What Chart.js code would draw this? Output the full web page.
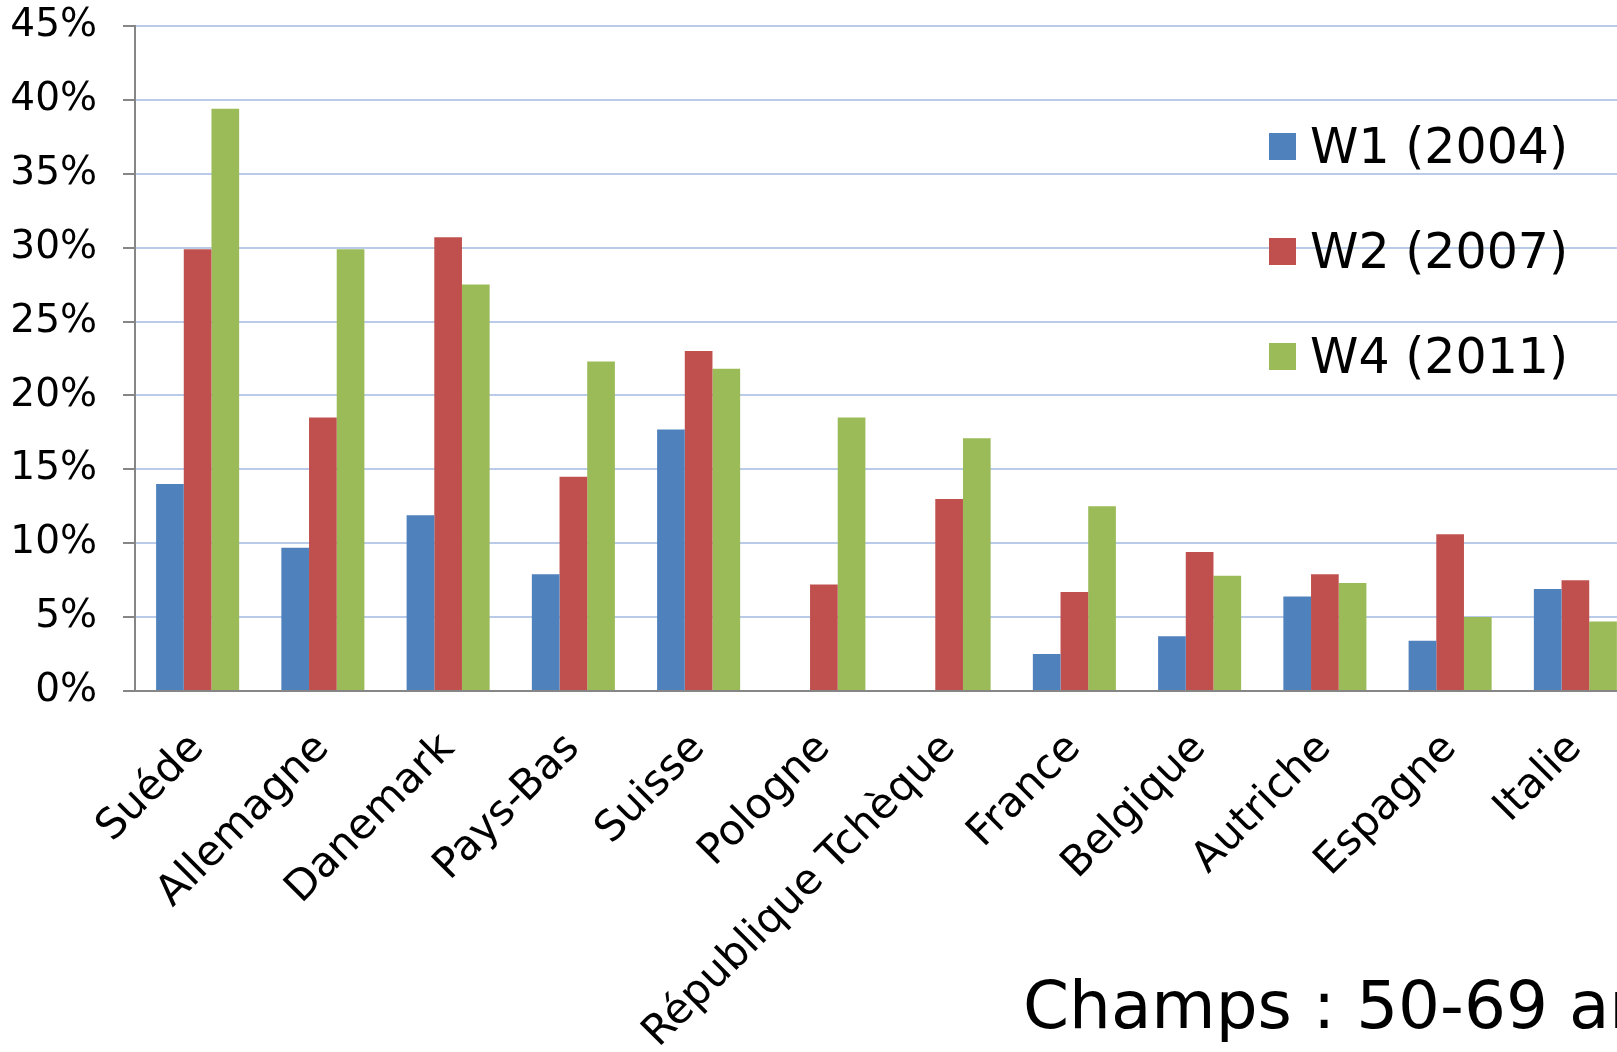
<!DOCTYPE html>
<html>
<head>
<meta charset="utf-8">
<title>Champs : 50-69 ans</title>
<script src="https://cdn.jsdelivr.net/npm/chart.js"></script>
<style>
  html, body { margin: 0; padding: 0; overflow: hidden; background: #fff; }
  #wrap { position: relative; width: 1638px; height: 1052px; }
</style>
</head>
<body>
<div id="wrap"><canvas id="chart" width="1638" height="1052"></canvas></div>
<script>
// Data (percent)
const pays = ['Suéde', 'Allemagne', 'Danemark', 'Pays-Bas', 'Suisse', 'Pologne',
  'République Tchèque', 'France', 'Belgique', 'Autriche', 'Espagne', 'Italie'];
const w1 = [14.0, 9.7, 11.9, 7.9, 17.7, null, null, 2.5, 3.7, 6.4, 3.4, 6.9];
const w2 = [29.9, 18.5, 30.7, 14.5, 23.0, 7.2, 13.0, 6.7, 9.4, 7.9, 10.6, 7.5];
const w4 = [39.4, 29.9, 27.5, 22.3, 21.8, 18.5, 17.1, 12.5, 7.8, 7.3, 5.0, 4.7];
const yTicks = [0, 5, 10, 15, 20, 25, 30, 35, 40, 45];

const FONT = "'DejaVu Sans', Verdana, sans-serif";

// legend drawn inside the plot area, like the Excel one
const legendInPlot = {
  id: 'legendInPlot',
  afterDraw(chart) {
    const ctx = chart.ctx;
    ctx.save();
    ctx.font = '49px ' + FONT;
    ctx.textBaseline = 'middle';
    ctx.textAlign = 'left';
    chart.data.datasets.forEach((ds, i) => {
      const cy = 146 + i * 105;
      ctx.fillStyle = ds.backgroundColor;
      ctx.fillRect(1269, cy - 13, 27, 27);
      ctx.fillStyle = '#000';
      ctx.fillText(ds.label, 1310, cy + 4);
    });
    ctx.font = '66px ' + FONT;
    ctx.textBaseline = 'alphabetic';
    ctx.fillText('Champs : 50-69 ans', 1023, 1028);
    ctx.restore();
  }
};

new Chart(document.getElementById('chart'), {
  type: 'bar',
  data: {
    labels: pays,
    datasets: [
      { label: 'W1 (2004)', data: w1, backgroundColor: '#4F81BD' },
      { label: 'W2 (2007)', data: w2, backgroundColor: '#C0504D' },
      { label: 'W4 (2011)', data: w4, backgroundColor: '#9BBB59' }
    ]
  },
  options: {
    responsive: false,
    animation: false,
    devicePixelRatio: 1,
    layout: { padding: 0 },
    datasets: { bar: { categoryPercentage: 0.663, barPercentage: 1 } },
    plugins: { legend: { display: false }, tooltip: { enabled: false } },
    scales: {
      x: {
        grid: { display: false },
        border: { display: true, color: '#868686', width: 2 },
        ticks: {
          color: '#000',
          font: { family: FONT, size: 42 },
          minRotation: 45,
          maxRotation: 45,
          autoSkip: false,
          padding: 25
        },
        afterFit(axis) { axis.height = 1052 - 691; }
      },
      y: {
        min: 0,
        max: 45,
        afterBuildTicks(axis) { axis.ticks = yTicks.map(v => ({ value: v })); },
        grid: { color: '#b9cbe9', lineWidth: 2, tickLength: 12, tickColor: '#868686' },
        border: { display: true, color: '#868686', width: 2 },
        ticks: {
          color: '#000',
          font: { family: FONT, size: 39 },
          padding: 26,
          callback: v => v + '%'
        },
        afterFit(axis) {
          axis.width = 135;
          axis.paddingTop = 26;
          axis.paddingBottom = 0;
        }
      }
    }
  },
  plugins: [legendInPlot]
});
</script>
</body>
</html>
